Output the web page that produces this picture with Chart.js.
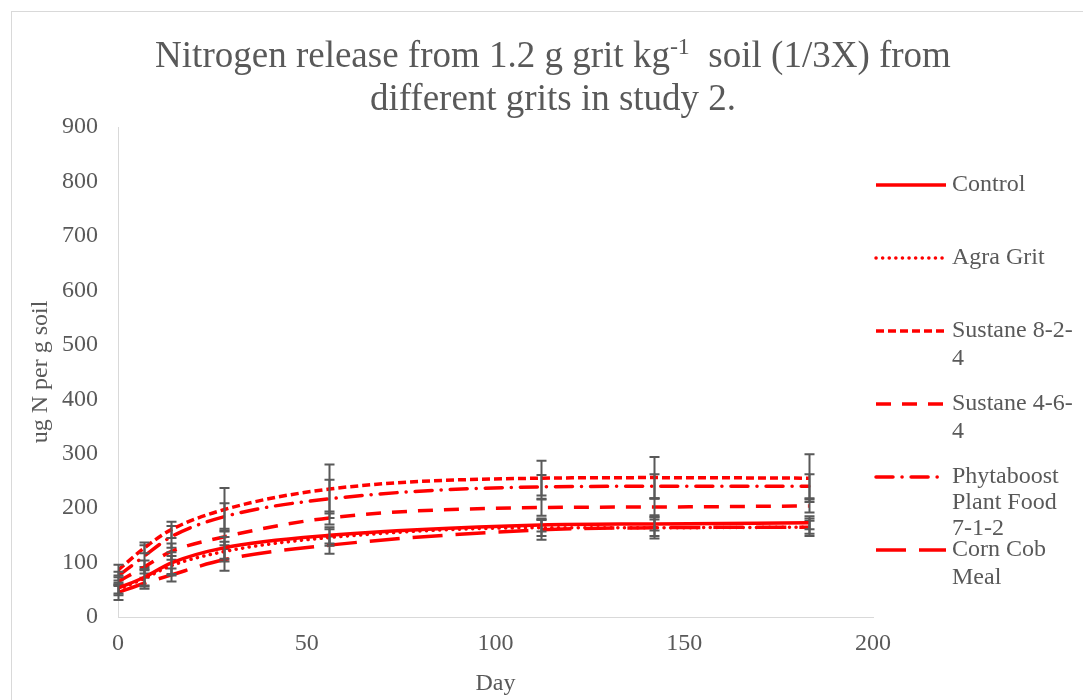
<!DOCTYPE html>
<html>
<head>
<meta charset="utf-8">
<script src="https://cdn.jsdelivr.net/npm/chart.js@4"></script>
<style>
  html, body { margin: 0; padding: 0; background: #fff; }
  #wrap { width: 1083px; height: 700px; position: relative; }
</style>
</head>
<body>
<div id="wrap"><canvas id="nChart" width="1083" height="700"></canvas></div>
<script>
const days = [0, 7, 14, 28, 56, 112, 142, 183];

const seriesNames = ["Control", "Agra Grit", "Sustane 8-2-4", "Sustane 4-6-4", "Phytaboost Plant Food 7-1-2", "Corn Cob Meal"];
const legendLines = [["Control"], ["Agra Grit"], ["Sustane 8-2-", "4"], ["Sustane 4-6-", "4"], ["Phytaboost", "Plant Food", "7-1-2"], ["Corn Cob", "Meal"]];
// title line 1 is split around the superscript
const titleParts = ["Nitrogen release from 1.2 g grit kg", "-1", "  soil (1/3X) from"];
const titleLine2 = "different grits in study 2.";

const control    = [53, 73, 99, 127, 150, 169, 171, 173];
const agraGrit   = [50, 71, 94, 120, 146, 164, 164, 165];
const sustane824 = [86, 127, 160, 197, 235, 255, 256, 255];
const sustane464 = [65, 92, 120, 147, 182, 201, 202, 204];
const phytaboost = [75, 112, 147, 184, 217, 239, 240, 240];
const cornCob    = [45, 62, 77, 105, 132, 160, 164, 165];

// error bar half widths (+/-)
const controlErr    = [10, 15, 20, 20, 15, 12, 12, 12];
const agraGritErr   = [10, 15, 18, 18, 15, 15, 15, 12];
const sustane824Err = [10, 10, 15, 40, 45, 32, 38, 44];
const sustane464Err = [8, 12, 15, 15, 12, 15, 15, 12];
const phytaboostErr = [8, 20, 20, 25, 35, 22, 22, 22];
const cornCobErr    = [14, 10, 12, 20, 16, 18, 20, 16];

const xTicks = [0, 50, 100, 150, 200];
const yTicks = [0, 100, 200, 300, 400, 500, 600, 700, 800, 900];

const allValues = [control, agraGrit, sustane824, sustane464, phytaboost, cornCob];
const allErrors = [controlErr, agraGritErr, sustane824Err, sustane464Err, phytaboostErr, cornCobErr];
const dashes = [[], [0.1, 6.5], [8, 4], [15, 11], [17, 9, 0.1, 9], [30, 13]];
const caps = ["butt", "round", "butt", "butt", "round", "butt"];

const red = "#ff0000";
const grayText = "#595959";
const serif = "'Liberation Serif', 'Times New Roman', serif";

function points(vals) {
  return days.map((d, i) => ({ x: d, y: vals[i] }));
}

const datasets = allValues.map((vals, k) => ({
  label: seriesNames[k],
  data: points(vals),
  errors: allErrors[k],
  borderColor: red,
  backgroundColor: red,
  borderWidth: 3.5,
  borderDash: dashes[k],
  borderCapStyle: caps[k],
  pointRadius: 0,
  cubicInterpolationMode: "monotone",
  fill: false
}));

// draw error bars for each series right after its line
const errorBars = {
  id: "errorBars",
  afterDatasetDraw(chart, args) {
    const ds = chart.data.datasets[args.index];
    const xs = chart.scales.x, ys = chart.scales.y;
    const ctx = chart.ctx;
    ctx.save();
    ctx.strokeStyle = "#595959";
    ctx.lineWidth = 2;
    ctx.setLineDash([]);
    ds.data.forEach((p, i) => {
      const e = ds.errors[i];
      const px = Math.round(xs.getPixelForValue(p.x)) + 0.5;
      const top = ys.getPixelForValue(p.y + e);
      const bot = ys.getPixelForValue(p.y - e);
      ctx.beginPath();
      ctx.moveTo(px, top); ctx.lineTo(px, bot);
      ctx.moveTo(px - 5, top); ctx.lineTo(px + 5, top);
      ctx.moveTo(px - 5, bot); ctx.lineTo(px + 5, bot);
      ctx.stroke();
    });
    ctx.restore();
  }
};

// outer frame, title and the wrapped legend on the right
const frameAndLegend = {
  id: "frameAndLegend",
  beforeDraw(chart) {
    const ctx = chart.ctx;
    ctx.save();
    ctx.strokeStyle = "#d9d9d9";
    ctx.lineWidth = 1;
    ctx.strokeRect(11.5, 11.5, 1200, 800);

    ctx.fillStyle = grayText;
    ctx.textBaseline = "alphabetic";
    ctx.textAlign = "left";
    const big = "37px " + serif, small = "24px " + serif;
    ctx.font = big;
    const w0 = ctx.measureText(titleParts[0]).width;
    const w2 = ctx.measureText(titleParts[2]).width;
    ctx.font = small;
    const w1 = ctx.measureText(titleParts[1]).width;
    let x = 553 - (w0 + w1 + w2) / 2;
    ctx.font = big;
    ctx.fillText(titleParts[0], x, 67);
    x += w0;
    ctx.font = small;
    ctx.fillText(titleParts[1], x, 54);
    x += w1;
    ctx.font = big;
    ctx.fillText(titleParts[2], x, 67);
    ctx.textAlign = "center";
    ctx.fillText(titleLine2, 553, 110);
    ctx.restore();
  },
  afterDraw(chart) {
    const ctx = chart.ctx;
    const x0 = chart.chartArea.right + 3;
    let y = 185;
    ctx.save();
    chart.data.datasets.forEach((ds, k) => {
      ctx.strokeStyle = ds.borderColor;
      ctx.lineWidth = ds.borderWidth;
      ctx.setLineDash(ds.borderDash);
      ctx.lineCap = ds.borderCapStyle;
      ctx.beginPath();
      ctx.moveTo(x0, y);
      ctx.lineTo(x0 + 70, y);
      ctx.stroke();
      ctx.setLineDash([]);
      ctx.fillStyle = grayText;
      ctx.font = "24px " + serif;
      ctx.textBaseline = "middle";
      ctx.textAlign = "left";
      const lh = k === 4 ? 26 : 28;
      legendLines[k].forEach((t, j) => ctx.fillText(t, x0 + 76, y + j * lh));
      y += 73;
    });
    ctx.restore();
  }
};

const ctx = document.getElementById("nChart").getContext("2d");
const nChart = new Chart(ctx, {
  type: "line",
  data: { datasets: datasets },
  plugins: [errorBars, frameAndLegend],
  options: {
    responsive: false,
    animation: false,
    layout: { padding: { left: 0, right: 210, top: 127, bottom: 0 } },
    plugins: {
      legend: { display: false },
      tooltip: { enabled: false },
      title: { display: false }
    },
    scales: {
      x: {
        type: "linear",
        min: 0,
        max: 200,
        afterBuildTicks: (s) => { s.ticks = xTicks.map(v => ({ value: v })); },
        afterFit: (s) => { s.height = 83; },
        grid: { display: false, drawTicks: false },
        border: { display: true, color: "#d9d9d9", width: 1 },
        ticks: { color: grayText, font: { family: serif, size: 24 }, padding: 12 },
        title: { display: true, text: "Day", color: grayText, font: { family: serif, size: 24 }, padding: { top: 4, bottom: 2 } }
      },
      y: {
        min: 0,
        max: 900,
        afterBuildTicks: (s) => { s.ticks = yTicks.map(v => ({ value: v })); },
        afterFit: (s) => { s.width = 118; },
        grid: { display: false, drawTicks: false },
        border: { display: true, color: "#d9d9d9", width: 1 },
        ticks: { color: grayText, font: { family: serif, size: 24 }, padding: 20 },
        title: { display: true, text: "ug N per g soil", color: grayText, font: { family: serif, size: 24 }, padding: { top: 26, bottom: 0 } }
      }
    }
  }
});
</script>
</body>
</html>
